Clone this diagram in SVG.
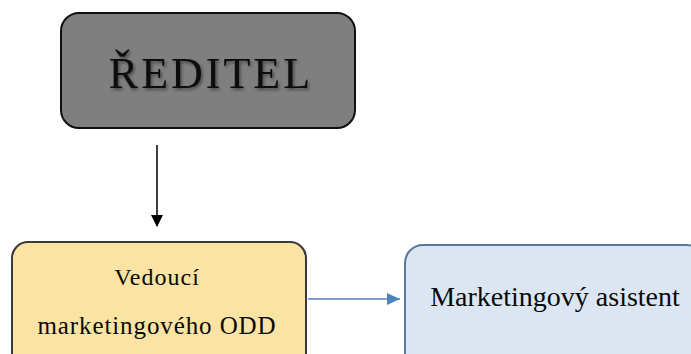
<svg xmlns="http://www.w3.org/2000/svg" width="691" height="354" viewBox="0 0 691 354">
<style>
.t{font-family:"Liberation Serif","Times New Roman",serif;fill:#0a0a0a;}
</style>
<defs>
<filter id="sh" x="-10%" y="-10%" width="120%" height="130%">
<feDropShadow dx="1.5" dy="2" stdDeviation="1.5" flood-color="#000" flood-opacity="0.45"/>
</filter>
<marker id="ab" markerWidth="12" markerHeight="12" refX="11" refY="6" orient="auto" markerUnits="userSpaceOnUse">
<path d="M0,0 L12,6 L0,12 Z" fill="#000"/>
</marker>
<marker id="ablue" markerWidth="13" markerHeight="12" refX="13" refY="6" orient="auto" markerUnits="userSpaceOnUse">
<path d="M0,0 L13,6 L0,12 Z" fill="#4f81bd"/>
</marker>
</defs>
<rect width="691" height="354" fill="#fff"/>
<g id="connectors">
<line x1="157" y1="145" x2="157" y2="226" stroke="#000" stroke-width="1.5" marker-end="url(#ab)"/>
<line x1="308" y1="299" x2="400" y2="299" stroke="#4f81bd" stroke-width="1.5" marker-end="url(#ablue)"/>
</g>
<g id="reditel">
<rect x="61" y="13" width="294" height="115" rx="18" fill="#7f7f7f" stroke="#111" stroke-width="2"/>
<text class="t" x="211" y="88" font-size="44" text-anchor="middle" letter-spacing="3" filter="url(#sh)">ŘEDITEL</text>
</g>
<g id="vedouci">
<rect x="12" y="242" width="294" height="130" rx="16" fill="#fbe3a3" stroke="#3a3a3a" stroke-width="2"/>
<text class="t" x="157" y="285" font-size="24" text-anchor="middle" letter-spacing="1">Vedoucí</text>
<text class="t" x="157" y="334" font-size="25" text-anchor="middle" letter-spacing="0.9">marketingového ODD</text>
</g>
<g id="asistent">
<rect x="405" y="245" width="300" height="130" rx="18" fill="#dce6f2" stroke="#5b7697" stroke-width="2"/>
<text class="t" x="555" y="306" font-size="28" text-anchor="middle">Marketingový asistent</text>
</g>
</svg>
